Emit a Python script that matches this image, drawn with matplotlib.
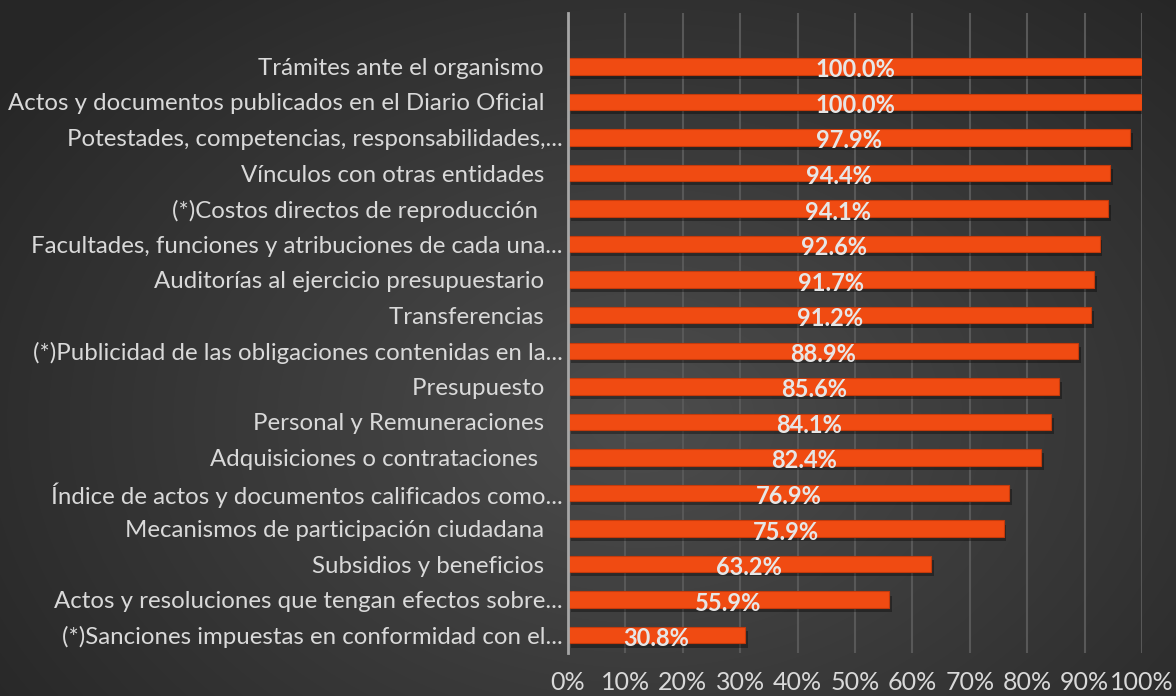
import numpy as np
import matplotlib.pyplot as plt
import matplotlib.patheffects as pe

plt.rcParams['font.family'] = ['Lato', 'DejaVu Sans']

# categories top to bottom
categories = [
    'Trámites ante el organismo',
    'Actos y documentos publicados en el Diario Oficial',
    'Potestades, competencias, responsabilidades,...',
    'Vínculos con otras entidades',
    '(*)Costos directos de reproducción ',
    'Facultades, funciones y atribuciones de cada una...',
    'Auditorías al ejercicio presupuestario',
    'Transferencias',
    '(*)Publicidad de las obligaciones contenidas en la...',
    'Presupuesto',
    'Personal y Remuneraciones',
    'Adquisiciones o contrataciones ',
    'Índice de actos y documentos calificados como...',
    'Mecanismos de participación ciudadana',
    'Subsidios y beneficios',
    'Actos y resoluciones que tengan efectos sobre...',
    '(*)Sanciones impuestas en conformidad con el...',
]
values = [100.0, 100.0, 97.9, 94.4, 94.1, 92.6, 91.7, 91.2, 88.9,
          85.6, 84.1, 82.4, 76.9, 75.9, 63.2, 55.9, 30.8]
xticks = [0, 10, 20, 30, 40, 50, 60, 70, 80, 90, 100]

fig = plt.figure(figsize=(11.76, 6.96), dpi=100)

# radial gradient background
bg = fig.add_axes([0, 0, 1, 1])
yy, xx = np.mgrid[0:696, 0:1176]
r = np.sqrt(((xx - 640) / 900.0) ** 2 + ((yy - 420) / 650.0) ** 2)
shade = np.clip(0.30 - 0.17 * r, 0.15, 0.30)
bg.imshow(np.dstack([shade] * 3), aspect='auto', extent=[0, 1, 0, 1])
bg.axis('off')

ax = fig.add_axes([568 / 1176, 1 - 653 / 696, (1142 - 568) / 1176, (653 - 13) / 696])
ax.patch.set_alpha(0)

n = len(categories)
ypos = np.arange(n)[::-1]
bars = ax.barh(ypos, values, height=0.46, color='#F04B12', edgecolor='#C43A0C',
               linewidth=0.8, zorder=3)
for b in bars:
    b.set_path_effects([pe.SimplePatchShadow(offset=(2, -3), shadow_rgbFace='black', alpha=0.35),
                        pe.Normal()])

for y, v in zip(ypos, values):
    ax.text(v / 2, y - 0.1, f'{v:.1f}%', ha='center', va='center', fontsize=17,
            fontweight='bold', color='#E6E6E6', zorder=4)

# labels that are not truncated end a bit further from the axis
ylabels = [c if c.endswith('...') else c + '   ' for c in categories]

ax.set_xlim(0, 100)
ax.set_ylim(-0.5, n + 0.5)
ax.set_xticks(xticks)
ax.set_xticklabels([f'{t}%' for t in xticks], fontsize=18, color='#D9D9D9')
ax.set_yticks(ypos)
ax.set_yticklabels(ylabels, fontsize=17.3, color='#D9D9D9')
ax.tick_params(axis='both', length=0)
ax.tick_params(axis='y', pad=4)
ax.tick_params(axis='x', pad=13)
ax.grid(axis='x', color='#585858', linewidth=1.5, zorder=0)
for s in ['top', 'right', 'bottom']:
    ax.spines[s].set_visible(False)
ax.spines['left'].set_color('#A6A6A6')
ax.spines['left'].set_linewidth(2)
ax.spines['left'].set_zorder(5)

fig.savefig('out.png', dpi=100)
